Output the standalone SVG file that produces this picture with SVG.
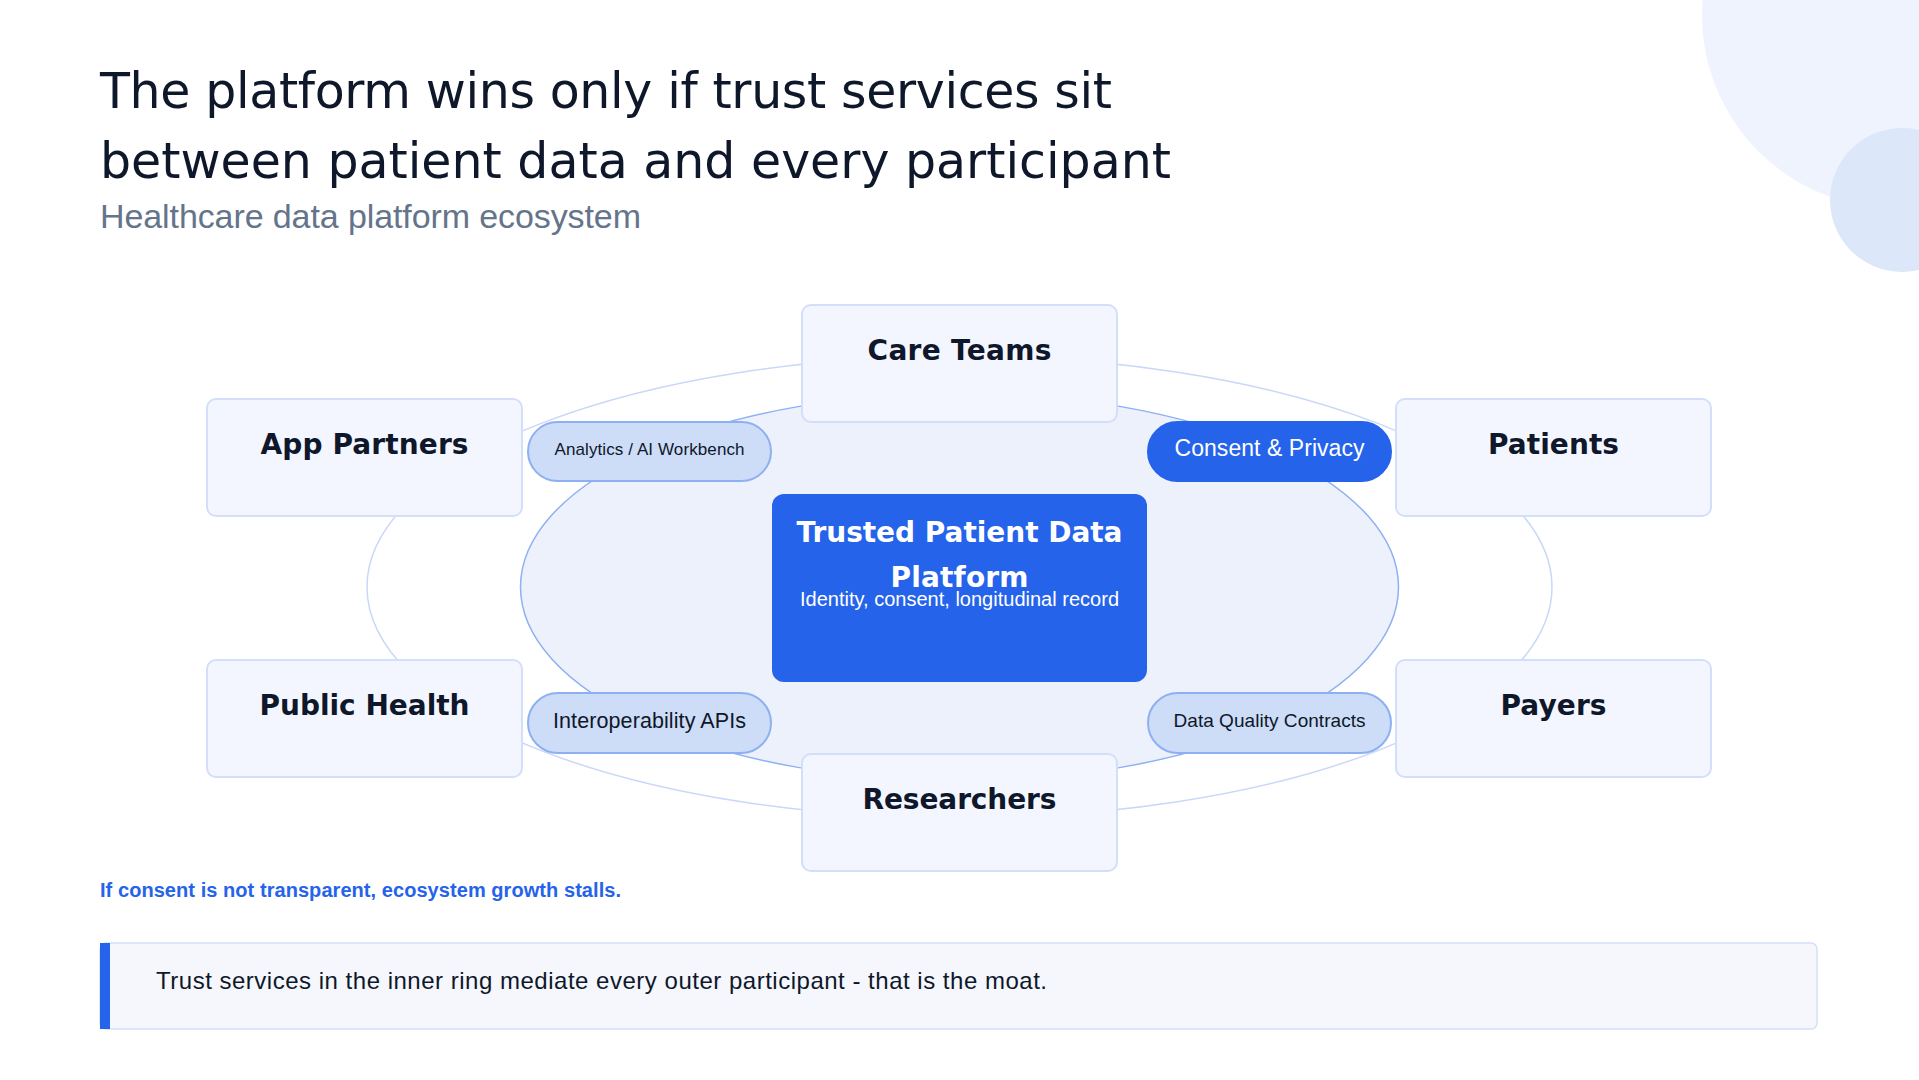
<svg xmlns="http://www.w3.org/2000/svg" width="1919" height="1080" viewBox="0 0 1919 1080">
  <defs>
    <style>
      .bg { fill: #ffffff; }
      .title { font-family: "DejaVu Sans", "Liberation Sans", sans-serif; font-size: 49px; font-weight: 400; fill: #0f172a; }
      .subtitle { font-family: "Liberation Sans", Arial, sans-serif; font-size: 34px; fill: #64748b; }
      .outer-ring { fill: none; stroke: #c9d8f8; stroke-width: 1.5; }
      .inner-ring { fill: #edf1fc; stroke: #8fb0f2; stroke-width: 1.5; }
      .box { fill: #f3f6fe; stroke: #d3dff8; stroke-width: 2; }
      .box-label { font-family: "DejaVu Sans", "Liberation Sans", sans-serif; font-size: 28px; font-weight: 700; fill: #0f172a; text-anchor: middle; }
      .pill { fill: #cddcf7; stroke: #8db0f2; stroke-width: 2; }
      .pill-strong { fill: #2563eb; stroke: #2563eb; stroke-width: 2; }
      .pill-label { font-family: "Liberation Sans", Arial, sans-serif; fill: #0f172a; text-anchor: middle; }
      .pill-label-strong { font-family: "Liberation Sans", Arial, sans-serif; fill: #ffffff; text-anchor: middle; }
      .core { fill: #2563eb; }
      .core-title { font-family: "DejaVu Sans", "Liberation Sans", sans-serif; font-size: 28px; font-weight: 700; fill: #ffffff; text-anchor: middle; }
      .core-sub { font-family: "Liberation Sans", Arial, sans-serif; font-size: 20px; fill: #ffffff; text-anchor: middle; }
      .caption { font-family: "Liberation Sans", Arial, sans-serif; font-size: 20px; font-weight: 700; fill: #2563eb; }
      .callout { fill: #f5f7fd; stroke: #d4dff8; stroke-width: 1.5; }
      .callout-bar { fill: #2563eb; }
      .callout-text { font-family: "Liberation Sans", Arial, sans-serif; font-size: 24px; fill: #0f172a; }
    </style>
  </defs>

  <rect class="bg" x="0" y="0" width="1919" height="1080"/>

  <g id="decor">
    <circle cx="1895" cy="15" r="193" fill="#eef3fd"/>
    <circle cx="1902" cy="200" r="72" fill="#dde7fa"/>
  </g>

  <g id="header">
    <text class="title" x="100" y="108" textLength="1012">The platform wins only if trust services sit</text>
    <text class="title" x="100" y="178" textLength="1071">between patient data and every participant</text>
    <text class="subtitle" x="100" y="228" textLength="541">Healthcare data platform ecosystem</text>
  </g>

  <g id="connectors">
    <ellipse class="outer-ring" cx="959.5" cy="587" rx="592.5" ry="231"/>
    <ellipse class="inner-ring" cx="959.5" cy="587" rx="439" ry="194"/>
  </g>

  <g id="node-care-teams">
    <rect class="box" x="802" y="305" width="315" height="117" rx="9"/>
    <text class="box-label" x="959.5" y="360" textLength="184">Care Teams</text>
  </g>
  <g id="node-app-partners">
    <rect class="box" x="207" y="399" width="315" height="117" rx="9"/>
    <text class="box-label" x="364.5" y="454" textLength="208">App Partners</text>
  </g>
  <g id="node-patients">
    <rect class="box" x="1396" y="399" width="315" height="117" rx="9"/>
    <text class="box-label" x="1553.5" y="454" textLength="131">Patients</text>
  </g>
  <g id="node-public-health">
    <rect class="box" x="207" y="660" width="315" height="117" rx="9"/>
    <text class="box-label" x="364.5" y="715" textLength="210">Public Health</text>
  </g>
  <g id="node-payers">
    <rect class="box" x="1396" y="660" width="315" height="117" rx="9"/>
    <text class="box-label" x="1553.5" y="715" textLength="106">Payers</text>
  </g>
  <g id="node-researchers">
    <rect class="box" x="802" y="754" width="315" height="117" rx="9"/>
    <text class="box-label" x="959.5" y="809" textLength="194">Researchers</text>
  </g>

  <g id="node-analytics">
    <rect class="pill" x="528" y="422" width="243" height="59" rx="29.5"/>
    <text class="pill-label" x="649.5" y="455" font-size="17" textLength="190">Analytics / AI Workbench</text>
  </g>
  <g id="node-consent">
    <rect class="pill-strong" x="1148" y="422" width="243" height="59" rx="29.5"/>
    <text class="pill-label-strong" x="1269.5" y="456" font-size="23" textLength="190">Consent &amp; Privacy</text>
  </g>
  <g id="node-interop">
    <rect class="pill" x="528" y="693" width="243" height="60" rx="30"/>
    <text class="pill-label" x="649.5" y="728" font-size="21.5" textLength="193">Interoperability APIs</text>
  </g>
  <g id="node-data-quality">
    <rect class="pill" x="1148" y="693" width="243" height="60" rx="30"/>
    <text class="pill-label" x="1269.5" y="727" font-size="19" textLength="192">Data Quality Contracts</text>
  </g>

  <g id="node-core">
    <rect class="core" x="772" y="494" width="375" height="188" rx="12"/>
    <text class="core-title" x="959.5" y="542" textLength="326">Trusted Patient Data</text>
    <text class="core-title" x="959.5" y="587" textLength="138">Platform</text>
    <text class="core-sub" x="959.5" y="606" textLength="319">Identity, consent, longitudinal record</text>
  </g>

  <g id="caption">
    <text class="caption" x="100" y="897" textLength="521">If consent is not transparent, ecosystem growth stalls.</text>
  </g>

  <g id="callout">
    <rect class="callout" x="100" y="943" width="1717" height="86" rx="6"/>
    <rect class="callout-bar" x="100" y="943" width="10" height="86"/>
    <text class="callout-text" x="156" y="989" textLength="891">Trust services in the inner ring mediate every outer participant - that is the moat.</text>
  </g>
</svg>
